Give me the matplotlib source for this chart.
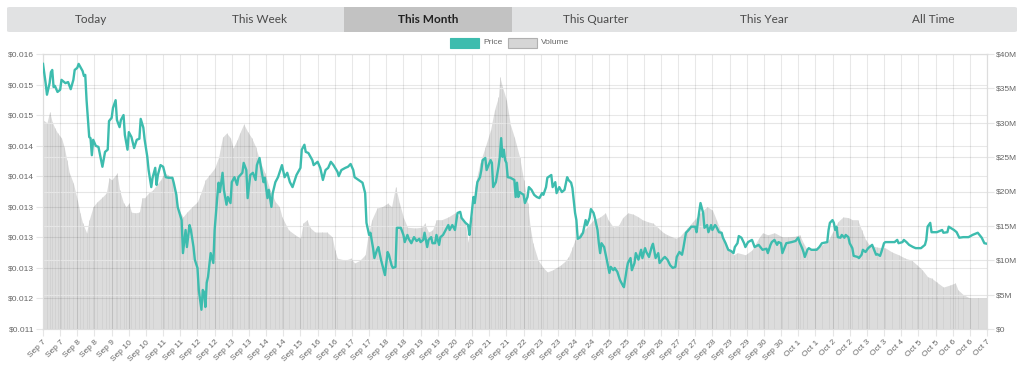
import numpy as np
import matplotlib.pyplot as plt
from matplotlib.patches import FancyBboxPatch, Rectangle

# tabs above the chart
tabs = ["Today", "This Week", "This Month", "This Quarter", "This Year", "All Time"]
active_tab = "This Month"

# x axis: hourly data, a label every 13 hours
tick_labels = ["Sep 7", "Sep 7", "Sep 8", "Sep 8", "Sep 9", "Sep 10", "Sep 10", "Sep 11",
               "Sep 11", "Sep 12", "Sep 12", "Sep 13", "Sep 13", "Sep 14", "Sep 14", "Sep 15",
               "Sep 16", "Sep 16", "Sep 17", "Sep 17", "Sep 18", "Sep 18", "Sep 19", "Sep 19",
               "Sep 20", "Sep 20", "Sep 21", "Sep 21", "Sep 22", "Sep 23", "Sep 23", "Sep 24",
               "Sep 24", "Sep 25", "Sep 25", "Sep 26", "Sep 26", "Sep 27", "Sep 27", "Sep 28",
               "Sep 29", "Sep 29", "Sep 30", "Sep 30", "Oct 1", "Oct 1", "Oct 2", "Oct 2",
               "Oct 3", "Oct 3", "Oct 4", "Oct 5", "Oct 5", "Oct 6", "Oct 6", "Oct 7"]
hours_per_label = 13

price_tick_labels = ["$0.011", "$0.012", "$0.013", "$0.013", "$0.013",
                     "$0.014", "$0.014", "$0.015", "$0.015", "$0.016"]
volume_tick_labels = ["$0", "$5M", "$10M", "$15M", "$20M", "$25M", "$30M", "$35M", "$40M"]

# (hour, price $)
price_points = [
    (0, .01582), (2, .01547), (3, .01526), (5, .01547), (6, .01567), (7, .01571), (8, .01540),
    (9, .01542), (11, .01531), (13, .01535), (14, .01553), (17, .01547), (19, .01549), (21, .01536),
    (23, .01553), (24, .01571), (26, .01575), (27, .01582), (30, .01569), (31, .01560), (32, .01562),
    (33, .01516), (35, .01449), (36, .01447), (37, .01416), (38, .01444), (40, .01433), (42, .01431),
    (44, .01407), (45, .01395), (47, .01422), (49, .01426), (50, .01478), (52, .01484), (53, .01502),
    (55, .01516), (56, .01480), (58, .01467), (59, .01480), (61, .01489), (62, .01453), (64, .01426),
    (65, .01458), (67, .01449), (69, .01429), (71, .01444), (73, .01446), (74, .01482), (76, .01466),
    (77, .01444), (79, .01413), (80, .01389), (82, .01358), (83, .01375), (85, .01393), (86, .01362),
    (87, .01380), (89, .01398), (91, .01395), (93, .01376), (95, .01375), (98, .01375), (99, .01366),
    (101, .01344), (102, .01322), (105, .01298), (106, .01238), (108, .01280), (109, .01249),
    (111, .01289), (112, .01280), (114, .01249), (115, .01226), (117, .01211), (118, .01171),
    (120, .01135), (121, .01171), (122, .01167), (123, .01140), (124, .01184), (125, .01195),
    (127, .01238), (129, .01220), (130, .01280), (131, .01311), (132, .01340), (133, .01366),
    (134, .01349), (136, .01384), (137, .01353), (139, .01326), (140, .01340), (142, .01329),
    (143, .01367), (145, .01376), (147, .01362), (148, .01376), (151, .01384), (152, .01402),
    (154, .01389), (155, .01338), (157, .01380), (159, .01384), (161, .01371), (162, .01398),
    (164, .01411), (165, .01395), (167, .01367), (168, .01375), (170, .01338), (171, .01353),
    (173, .01322), (174, .01347), (176, .01367), (178, .01376), (181, .01398), (183, .01376),
    (185, .01384), (187, .01367), (189, .01358), (192, .01380), (195, .01393), (196, .01426),
    (198, .01435), (199, .01422), (201, .01420), (204, .01407), (205, .01398), (208, .01404),
    (210, .01393), (212, .01371), (214, .01389), (216, .01393), (218, .01404), (220, .01398),
    (223, .01386), (224, .01378), (226, .01389), (229, .01393), (231, .01395), (233, .01400),
    (235, .01389), (236, .01376), (239, .01371), (242, .01366), (244, .01347), (245, .01293),
    (247, .01271), (248, .01275), (250, .01247), (251, .01229), (253, .01244), (254, .01249),
    (256, .01226), (258, .01207), (259, .01198), (261, .01240), (262, .01235), (264, .01216),
    (265, .01211), (267, .01213), (268, .01284), (271, .01284), (273, .01271), (274, .01258),
    (276, .01271), (277, .01264), (279, .01256), (281, .01267), (283, .01260), (285, .01264),
    (286, .01258), (288, .01262), (289, .01275), (291, .01249), (292, .01262), (294, .01267),
    (295, .01256), (297, .01256), (298, .01271), (300, .01253), (301, .01267), (303, .01271),
    (305, .01280), (307, .01289), (308, .01280), (310, .01289), (312, .01280), (314, .01311),
    (316, .01313), (317, .01302), (320, .01293), (322, .01289), (323, .01271), (325, .01316),
    (326, .01340), (327, .01329), (329, .01367), (331, .01376), (332, .01389), (333, .01407),
    (335, .01411), (336, .01389), (337, .01395), (339, .01407), (340, .01402), (341, .01358),
    (343, .01367), (345, .01395), (346, .01413), (347, .01447), (348, .01413), (349, .01426),
    (350, .01407), (351, .01402), (352, .01376), (354, .01375), (357, .01371), (358, .01340),
    (359, .01366), (360, .01340), (361, .01349), (364, .01344), (365, .01329), (367, .01340),
    (368, .01358), (370, .01353), (372, .01344), (374, .01340), (376, .01338), (378, .01347),
    (379, .01344), (381, .01358), (382, .01375), (385, .01380), (386, .01358), (388, .01367),
    (389, .01347), (391, .01358), (393, .01349), (395, .01353), (397, .01376), (398, .01371),
    (400, .01366), (401, .01356), (403, .01311), (404, .01298), (405, .01264), (407, .01267),
    (409, .01275), (411, .01298), (412, .01289), (414, .01302), (415, .01318), (417, .01311),
    (418, .01302), (420, .01280), (421, .01256), (422, .01238), (423, .01256), (425, .01249),
    (427, .01226), (429, .01202), (430, .01213), (432, .01207), (433, .01211), (435, .01204),
    (437, .01189), (439, .01180), (440, .01176), (442, .01207), (443, .01220), (445, .01229),
    (446, .01207), (448, .01220), (449, .01238), (451, .01226), (453, .01244), (454, .01229),
    (456, .01247), (457, .01240), (459, .01231), (461, .01249), (462, .01255), (464, .01229),
    (466, .01238), (467, .01220), (470, .01229), (471, .01231), (473, .01226), (475, .01216),
    (477, .01211), (479, .01213), (480, .01231), (482, .01240), (484, .01235), (485, .01247),
    (487, .01275), (489, .01280), (491, .01286), (494, .01286), (495, .01276), (497, .01313),
    (498, .01329), (500, .01311), (501, .01284), (503, .01289), (504, .01276), (506, .01289),
    (507, .01280), (509, .01289), (510, .01286), (512, .01276), (514, .01275), (515, .01266),
    (517, .01256), (519, .01244), (521, .01242), (523, .01238), (524, .01249), (526, .01256),
    (527, .01269), (529, .01266), (531, .01256), (532, .01249), (534, .01258), (537, .01262),
    (539, .01249), (542, .01253), (544, .01247), (545, .01244), (548, .01246), (549, .01238),
    (551, .01253), (552, .01258), (554, .01262), (556, .01253), (557, .01258), (559, .01256),
    (560, .01238), (563, .01256), (567, .01258), (570, .01260), (572, .01266), (573, .01258),
    (575, .01247), (576, .01240), (577, .01231), (579, .01244), (580, .01247), (582, .01244),
    (586, .01244), (588, .01249), (590, .01256), (594, .01258), (595, .01280), (596, .01293),
    (598, .01298), (599, .01293), (600, .01280), (601, .01286), (602, .01267), (604, .01266),
    (605, .01271), (607, .01266), (608, .01271), (610, .01267), (611, .01256), (613, .01247),
    (614, .01233), (617, .01231), (618, .01229), (620, .01235), (621, .01244), (623, .01240),
    (625, .01247), (626, .01249), (628, .01253), (629, .01247), (631, .01235), (632, .01236),
    (634, .01233), (635, .01240), (637, .01256), (638, .01258), (642, .01258), (645, .01258),
    (647, .01262), (648, .01256), (651, .01258), (652, .01262), (654, .01258), (656, .01253),
    (659, .01249), (661, .01247), (665, .01247), (668, .01253), (669, .01262), (670, .01286),
    (672, .01293), (673, .01276), (677, .01276), (681, .01280), (682, .01275), (685, .01276),
    (686, .01286), (690, .01280), (692, .01276), (694, .01266), (697, .01267), (701, .01267),
    (704, .01271), (708, .01275), (711, .01266), (713, .01256), (715, .01255),
]

# (hour, volume $M)
volume_points = [
    (0, 30.4), (3, 30.0), (5, 31.6), (7, 30.1), (9, 29.2), (11, 28.5), (14, 27.8), (16, 26.5),
    (18, 24.6), (20, 22.7), (23, 21.2), (26, 18.8), (28, 16.9), (30, 15.4), (33, 14.0), (35, 15.9),
    (38, 17.8), (41, 18.5), (45, 19.2), (48, 19.8), (50, 22.0), (52, 21.7), (55, 22.4), (56, 22.7),
    (58, 20.2), (61, 18.3), (63, 17.8), (65, 18.3), (67, 17.0), (70, 16.9), (73, 17.0), (75, 19.1),
    (77, 19.1), (80, 19.8), (83, 20.2), (89, 21.7), (92, 22.7), (95, 22.4), (98, 21.7), (100, 20.2),
    (103, 17.3), (106, 16.3), (109, 17.0), (113, 17.8), (117, 18.5), (119, 19.5), (123, 21.7),
    (126, 22.4), (130, 23.4), (133, 25.0), (136, 27.9), (139, 28.5), (142, 27.8), (144, 26.3),
    (147, 27.5), (149, 28.5), (152, 29.8), (155, 28.7), (158, 27.8), (161, 26.5), (164, 24.6),
    (168, 22.7), (172, 20.2), (176, 18.5), (179, 17.8), (181, 16.3), (186, 14.4), (191, 13.7),
    (195, 13.2), (197, 15.4), (200, 15.9), (202, 14.8), (206, 14.1), (211, 14.1), (215, 14.1),
    (219, 13.4), (221, 11.5), (223, 10.3), (229, 10.0), (233, 10.3), (236, 9.6), (240, 10.0),
    (244, 10.8), (246, 13.4), (249, 15.9), (253, 17.6), (257, 17.8), (261, 18.3), (264, 17.8),
    (267, 20.7), (270, 18.3), (273, 16.2), (276, 14.8), (282, 14.7), (287, 14.8), (289, 15.4),
    (292, 14.1), (295, 14.4), (298, 15.9), (302, 15.9), (307, 16.3), (312, 16.9), (316, 16.3),
    (320, 15.4), (322, 12.7), (325, 16.3), (327, 20.7), (331, 24.2), (335, 26.5), (339, 29.0),
    (342, 31.9), (345, 33.8), (346, 36.7), (348, 35.2), (351, 33.3), (354, 29.7), (357, 27.9),
    (361, 25.0), (364, 21.7), (367, 18.3), (369, 14.8), (371, 12.5), (375, 10.0), (379, 8.9),
    (382, 8.3), (386, 8.6), (392, 9.3), (395, 9.8), (398, 10.5), (401, 11.9), (403, 13.0),
    (407, 14.0), (412, 14.8), (417, 15.9), (422, 16.3), (426, 16.9), (428, 15.9), (432, 14.8),
    (436, 15.1), (439, 16.2), (443, 16.9), (447, 16.7), (451, 16.3), (454, 15.9), (458, 15.6),
    (462, 15.4), (466, 14.7), (470, 14.0), (473, 13.7), (479, 13.2), (482, 13.4), (488, 14.7),
    (492, 15.6), (498, 16.9), (503, 17.8), (507, 17.3), (510, 15.9), (515, 13.4), (519, 11.8),
    (523, 10.8), (526, 11.1), (532, 10.8), (537, 11.5), (542, 13.2), (545, 14.0), (549, 13.7),
    (554, 14.0), (560, 13.4), (564, 13.4), (570, 13.5), (573, 13.7), (576, 12.5), (579, 11.5),
    (585, 11.8), (590, 12.2), (595, 13.0), (598, 14.1), (602, 15.6), (606, 16.3), (610, 16.2),
    (613, 15.9), (617, 15.9), (620, 14.4), (623, 13.0), (626, 12.2), (632, 11.9), (638, 11.8),
    (643, 11.2), (648, 10.8), (653, 10.3), (658, 10.0), (662, 9.3), (666, 8.6), (670, 7.6),
    (673, 7.4), (677, 6.8), (682, 6.1), (687, 6.4), (691, 6.7), (693, 5.7), (697, 5.0),
    (702, 4.5), (708, 4.5), (715, 4.5),
]

teal = "#3dbcae"
label_color = "#666666"
grid_color = "#e6e6e6"

plt.rcParams["font.family"] = ["Liberation Sans", "DejaVu Sans"]

price_h, price_v = zip(*price_points)
vol_h, vol_v = zip(*volume_points)

fig = plt.figure(figsize=(10.24, 3.65), dpi=100)

# tab bar
fig.add_artist(FancyBboxPatch((7 / 1024, 1 - 32 / 365), 1010 / 1024, 25 / 365,
                              boxstyle="round,pad=0,rounding_size=0.003",
                              transform=fig.transFigure, fc="#e1e2e3", ec="none"))
tab_w = 1010 / 1024 / len(tabs)
for i, name in enumerate(tabs):
    x0 = 7 / 1024 + i * tab_w
    if name == active_tab:
        fig.add_artist(Rectangle((x0, 1 - 32 / 365), tab_w, 25 / 365,
                                 transform=fig.transFigure, fc="#c2c2c2", ec="none"))
    fig.text(x0 + tab_w / 2, 1 - 19.5 / 365, name, ha="center", va="center",
             fontsize=8.5, family="Lato", color="#222222" if name == active_tab else "#4a4a4a",
             fontweight="bold" if name == active_tab else "normal")

# legend
fig.add_artist(Rectangle((450 / 1024, 1 - 47.5 / 365), 29 / 1024, 10 / 365,
                         transform=fig.transFigure, fc=teal, ec=teal, lw=0.8))
fig.text(483 / 1024, 1 - 42.5 / 365, "Price", ha="left", va="center", fontsize=6, color=label_color)
fig.add_artist(Rectangle((508 / 1024, 1 - 47.5 / 365), 29 / 1024, 10 / 365,
                         transform=fig.transFigure, fc="#d6d6d6", ec="#b0b0b0", lw=0.8))
fig.text(541 / 1024, 1 - 42.5 / 365, "Volume", ha="left", va="center", fontsize=6, color=label_color)

ax = fig.add_axes([43 / 1024, 1 - 329 / 365, 944 / 1024, 275 / 365])
axv = ax.twinx()
ax.set_zorder(axv.get_zorder() + 1)
ax.patch.set_visible(False)

# volume bars (right axis)
axv.fill_between(vol_h, 0, vol_v, color="#dcdcdc", lw=0, zorder=1)
axv.vlines(vol_h, 0, vol_v, color="#cfcfcf", lw=0.5, zorder=1.2)
axv.set_ylim(0, 40)
axv.set_yticks(np.arange(len(volume_tick_labels)) * 5)
axv.set_yticklabels(volume_tick_labels)
axv.grid(axis="y", color=grid_color, lw=0.8, zorder=1.5)

# price line (left axis)
ax.plot(price_h, price_v, color=teal, lw=1.7, solid_joinstyle="round", zorder=3)
ax.set_ylim(0.011, 0.016)
ax.set_yticks(np.linspace(0.011, 0.016, len(price_tick_labels)))
ax.set_yticklabels(price_tick_labels)
tick_hours = np.arange(len(tick_labels)) * hours_per_label
ax.set_xlim(0, tick_hours[-1])
ax.set_xticks(tick_hours)
ax.set_xticklabels(tick_labels, rotation=45, ha="right", rotation_mode="anchor")
ax.grid(axis="both", color="#000000", alpha=0.09, lw=0.8)

for a in (ax, axv):
    a.tick_params(labelsize=6, labelcolor=label_color, color=grid_color, length=5, width=0.8, pad=1.5)
    for s in a.spines.values():
        s.set_color("#dddddd")
        s.set_linewidth(0.8)
ax.tick_params(axis="x", pad=2)

fig.savefig("out.png", dpi=100, facecolor="white")
